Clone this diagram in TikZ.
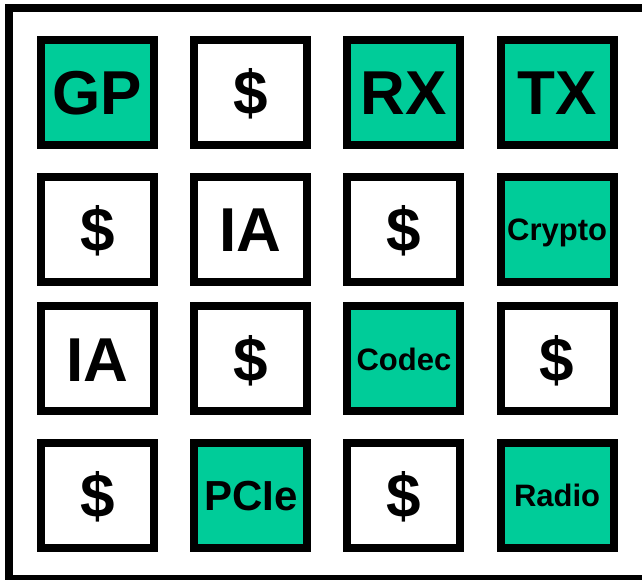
\documentclass[tikz,border=0pt]{standalone}
\usepackage{fontspec}
\setmainfont{Liberation Sans}
\usepackage{tikz}
\usepackage{xcolor}
\usetikzlibrary{positioning}
\definecolor{ink}     {HTML}{000000}
\definecolor{accgreen}{HTML}{00CC99}
\tikzset{
  tilebox/.style   ={draw=ink, fill=white, line width=6pt,
                     minimum width=84.75pt, minimum height=78.75pt,
                     align=center, inner sep=0pt, text depth=0pt},
  bigtxt/.style    ={font=\fontsize{46.5}{46.5}\selectfont\bfseries, text height=33.3pt},
  midtxt/.style    ={font=\fontsize{31.5}{31.5}\selectfont\bfseries, text height=22.55pt},
  smalltxt/.style  ={font=\fontsize{23.25}{23.25}\selectfont\bfseries, text height=16.65pt},
  accbox/.style    ={tilebox, fill=accgreen},
  cachebox/.style  ={tilebox, bigtxt},
}

\begin{document}
\begin{tikzpicture}[x=0.75pt,y=-0.75pt]
        \useasboundingbox (0,0) rectangle (642,580);
        \clip (0,0) rectangle (642,580);
        \draw[draw=ink,line width=6pt] (9,8) rectangle (660,579);
        % row 1
        \node[accbox,bigtxt] (gp)     at (97.5,92.5)  {GP};
        \node[cachebox]      (ca1)    at (250.7,92.5) {\$};
        \node[accbox,bigtxt] (rx)     at (403.9,92.5) {RX};
        \node[accbox,bigtxt] (tx)     at (557.1,92.5) {TX};
        % row 2
        \node[cachebox]        (ca2)    at (97.5,229.5)  {\$};
        \node[tilebox,bigtxt]  (ia1)    at (250.7,229.5) {IA};
        \node[cachebox]        (ca3)    at (403.9,229.5) {\$};
        \node[accbox,smalltxt] (crypto) at (557.1,229.5) {Crypto};
        % row 3
        \node[tilebox,bigtxt]  (ia2)    at (97.5,359)  {IA};
        \node[cachebox]        (ca4)    at (250.7,359) {\$};
        \node[accbox,smalltxt] (codec)  at (403.9,359) {Codec};
        \node[cachebox]        (ca5)    at (557.1,359) {\$};
        % row 4
        \node[cachebox]        (ca6)    at (97.5,495.5)  {\$};
        \node[accbox,midtxt]   (pcie)   at (250.7,495.5) {PCIe};
        \node[cachebox]        (ca7)    at (403.9,495.5) {\$};
        \node[accbox,smalltxt] (radio)  at (557.1,495.5) {Radio};
      \end{tikzpicture}
\end{document}
